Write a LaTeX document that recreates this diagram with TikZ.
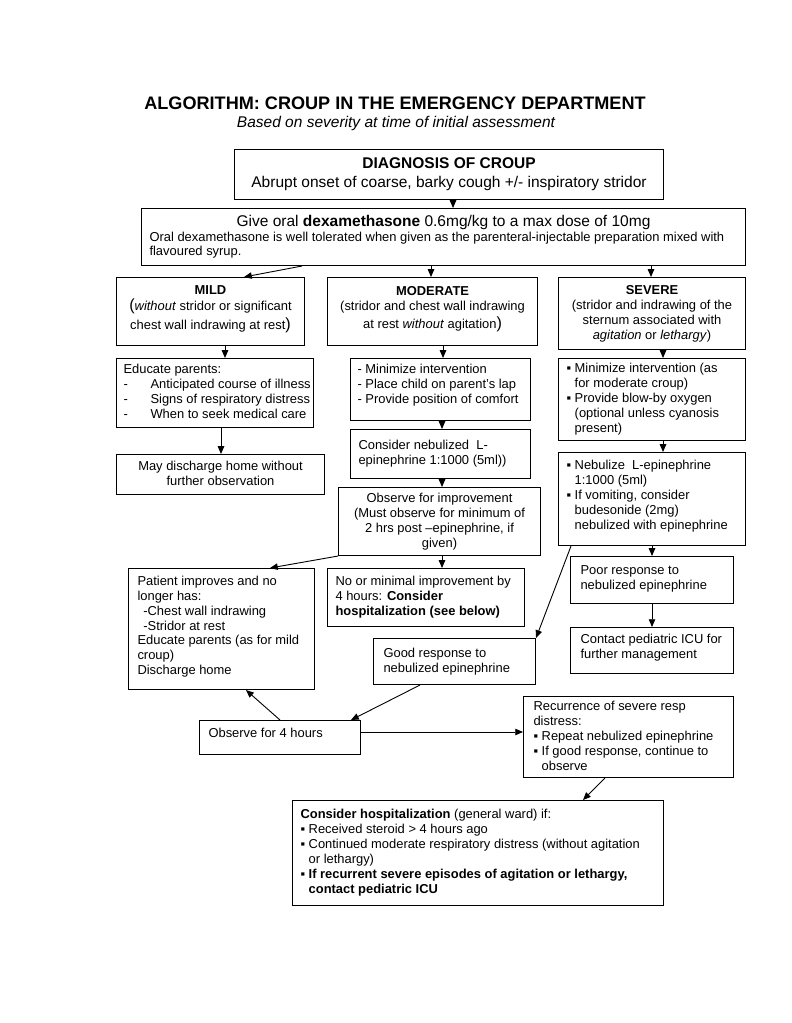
\documentclass[tikz,border=0pt]{standalone}
\usepackage{fontspec}
\setmainfont{Liberation Sans}
\usetikzlibrary{arrows.meta}
\newdimen\pxu \pxu=0.7737pt
\newdimen\bxw \newdimen\bxh \newdimen\bxp
\newcommand\bul{▪\ }
\newcommand\ind{\hphantom{▪\ }}
\newcommand\dsh{\makebox[20.9pt][l]{-}}
\newcommand\bp[1]{{\fontsize{12.5}{11.6}\selectfont#1}}
\newcommand\dn[1]{\rule[-#1]{0pt}{#1}}
\tikzset{
  box/.style={draw, line width=0.8pt, anchor=north west, inner ysep=0pt,
    font=\fontsize{10}{11.6}\selectfont},
  arr/.style={-{Triangle[length=6pt,width=5pt]}, line width=0.7pt},
}
% name, x1, y1, x2, y2, pad, align, options, content
\newcommand\bx[9]{%
  \bxw=\dimexpr\pxu*(#4-#2-2*#6)\relax
  \bxh=\dimexpr\pxu*(#5-#3)\relax
  \bxp=\dimexpr\pxu*#6\relax
  \node[box, inner xsep=\the\bxp, minimum height=\the\bxh, #8] (#1) at (#2,#3)
    {\makebox[\bxw][#7]{\begin{tabular}{@{}#7@{}}#9\end{tabular}}};}
\begin{document}
\begin{tikzpicture}[x=0.7737pt, y=-0.7737pt]
\useasboundingbox (0,0) rectangle (791,1023);
\fill[white] (0,0) rectangle (791,1023);

\node[font=\fontsize{14}{16}\selectfont\bfseries] (title) at (395,103)
  {ALGORITHM: CROUP IN THE EMERGENCY DEPARTMENT};
\node[font=\fontsize{12}{14}\selectfont\itshape] (sub) at (396,123)
  {Based on severity at time of initial assessment};

\bx{diag}{234}{149}{663}{199}{8}{c}{font=\fontsize{12}{14.7}\selectfont}
  {\textbf{DIAGNOSIS OF CROUP}\\ Abrupt onset of coarse, barky cough +/- inspiratory stridor}

\bxw=\dimexpr\pxu*(745-141-16)\relax
\node[box, inner xsep=6.19pt, minimum height=44.1pt] (dex) at (141,208)
  {\parbox{\bxw}{\centering\fontsize{12}{14}\selectfont Give oral \textbf{dexamethasone} 0.6mg/kg to a max dose of 10mg\par
   \vspace{0.3pt}\raggedright\fontsize{10}{11.2}\selectfont
   \mbox{Oral dexamethasone is well tolerated when given as the parenteral-injectable preparation mixed with}\\
   flavoured syrup.}};

\bx{mild}{116}{277}{304}{345}{6}{c}{}
  {\textbf{MILD}\\ \bp{(}\textit{without} stridor or significant\\[2pt] chest wall indrawing at rest\bp{)}\dn{7.4pt}}
\bx{moder}{327}{277}{537}{345}{6}{c}{}
  {\textbf{MODERATE}\\ (stridor and chest wall indrawing\\[2pt] at rest \textit{without} agitation\bp{)}\dn{7.4pt}}
\bx{severe}{558}{277}{745}{349}{6}{c}{}
  {\textbf{SEVERE}\\ (stridor and indrawing of the\\ sternum associated with\\ \textit{agitation} or \textit{lethargy})}

\bx{educ}{116}{358}{313}{427}{7}{l}{}
  {Educate parents:\\ \dsh Anticipated course of illness\\ \dsh Signs of respiratory distress\\ \dsh When to seek medical care}
\bx{modmin}{350}{358}{530}{420}{7}{l}{}
  {- Minimize intervention\\ - Place child on parent’s lap\\ - Provide position of comfort\dn{9.7pt}}
\bx{sevmin}{558}{358}{745}{440}{8}{l}{}
  {\bul Minimize intervention (as\\ \ind for moderate croup)\\ \bul Provide blow-by oxygen\\ \ind (optional unless cyanosis\\ \ind present)}

\bx{disch}{116}{454}{324}{494}{6}{c}{}
  {May discharge home without\\ further observation}
\bx{neb}{350}{429}{530}{478}{8}{l}{}
  {Consider nebulized\ \ L-\\ epinephrine 1:1000 (5ml))}
\bx{obs}{338}{487}{540}{555}{6}{c}{}
  {Observe for improvement\\ (Must observe for minimum of\\ 2 hrs post –epinephrine, if\\ given)}
\bx{sevneb}{558}{452}{745}{545}{8}{l}{}
  {\bul Nebulize\ \ L-epinephrine\\ \ind 1:1000 (5ml)\\ \bul If vomiting, consider\\ \ind budesonide (2mg)\\ \ind nebulized with epinephrine\dn{8.1pt}}

\bx{pat}{128}{568}{314}{689}{9}{l}{}
  {Patient improves and no\\ longer has:\\ \hspace*{4.5pt}-Chest wall indrawing\\ \hspace*{4.5pt}-Stridor at rest\\ Educate parents (as for mild\\ croup)\\ Discharge home\dn{6.6pt}}
\bx{noimp}{327}{568}{524}{626}{8}{l}{}
  {No or minimal improvement by\\ 4 hours: \textbf{Consider}\\ \textbf{hospitalization (see below)}}
\bx{poor}{570}{556}{733}{603}{10}{l}{}
  {Poor response to\\ nebulized epinephrine\dn{5.8pt}}
\bx{icu}{570}{627}{733}{673}{10}{l}{}
  {Contact pediatric ICU for\\ further management\dn{7.4pt}}
\bx{good}{373}{638}{535}{684}{10}{l}{}
  {Good response to\\ nebulized epinephrine}
\bx{obs4}{199}{720}{360}{754}{9}{l}{}
  {Observe for 4 hours\dn{8.9pt}}
\bx{recur}{523}{696}{733}{777}{10}{l}{}
  {Recurrence of severe resp\\ distress:\\ \bul Repeat nebulized epinephrine\\ \bul If good response, continue to\\ \ind observe}
\bx{hosp}{292}{800}{663}{905}{8}{l}{}
  {\textbf{Consider hospitalization} (general ward) if:\\ \bul Received steroid > 4 hours ago\\ \bul Continued moderate respiratory distress (without agitation\\ \ind or lethargy)\\ \textbf{\bul If recurrent severe episodes of agitation or lethargy,}\\ \textbf{\ind contact pediatric ICU}}

% connectors
\draw[arr] (diag.south -| 453,0) -- (dex.north -| 453,0);
\draw[arr] (dex.south -| 302,0) -- (mild.north -| 244,0);
\draw[arr] (dex.south -| 431,0) -- (moder.north -| 431,0);
\draw[arr] (dex.south -| 651,0) -- (severe.north -| 651,0);
\draw[arr] (mild.south -| 225,0) -- (educ.north -| 225,0);
\draw[arr] (educ.south -| 221,0) -- (disch.north -| 221,0);
\draw[arr] (moder.south -| 443,0) -- (modmin.north -| 443,0);
\draw[arr] (modmin.south -| 442,0) -- (neb.north -| 442,0);
\draw[arr] (neb.south -| 442,0) -- (obs.north -| 442,0);
\draw[arr] (obs.south -| 442,0) -- (noimp.north -| 442,0);
\draw[arr] (obs.south west) -- (pat.north -| 270,0);
\draw[arr] (severe.south -| 663,0) -- (sevmin.north -| 663,0);
\draw[arr] (sevmin.south -| 663,0) -- (sevneb.north -| 663,0);
\draw[arr] (sevneb.south -| 652,0) -- (poor.north -| 652,0);
\draw[arr] (poor.south -| 652,0) -- (icu.north -| 652,0);
\draw[arr] (sevneb.south -| 571,0) -- (good.north east);
\draw[arr] (good.south -| 420,0) -- (obs4.north -| 351,0);
\draw[arr] (obs4.north -| 280,0) -- (pat.south -| 246,0);
\draw[arr] (obs4.east |- 0,732) -- (recur.west |- 0,732);
\draw[arr] (recur.south -| 605,0) -- (hosp.north -| 583,0);
\end{tikzpicture}
\end{document}
